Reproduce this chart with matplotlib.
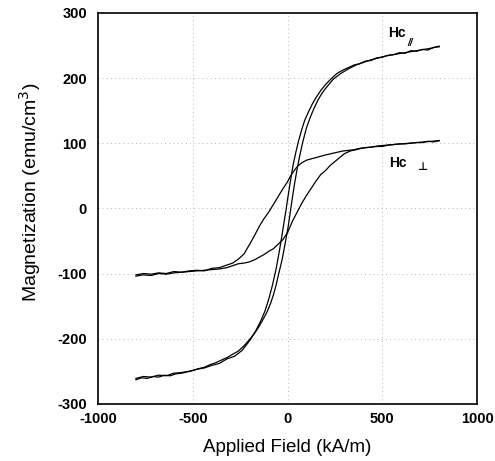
import matplotlib
matplotlib.use("Agg")
from matplotlib import pyplot as plt

plt.rcParams['font.family'] = ['Liberation Sans', 'DejaVu Sans']
plt.rcParams['axes.unicode_minus'] = False

# Hc // loop, descending branch (field swept from +800 to -800)
par_dn_H = [-800, -760, -720, -680, -640, -600, -560, -520, -480, -440, -400, -360, -320, -280,
            -240, -200, -170, -145, -120, -100, -80, -60, -45, -30, -18, -8, 2, 15, 30, 45, 60,
            75, 90, 110, 130, 150, 175, 200, 230, 260, 290, 320, 350, 380, 410, 440, 470, 500,
            530, 560, 590, 620, 650, 680, 710, 740, 770, 800]
par_dn_M = [-261, -258, -259, -256, -257, -253, -252, -250, -247, -245, -241, -238, -231, -227,
            -218, -203, -189, -175, -158, -140, -118, -92, -68, -42, -20, -2, 18, 42, 68, 88, 106,
            121, 135, 148, 160, 170, 181, 190, 199, 207, 212, 216, 220, 222, 226, 227, 231, 232,
            235, 236, 239, 238, 242, 241, 244, 243, 247, 248]

# Hc // loop, ascending branch
par_up_H = [-800, -770, -740, -710, -680, -650, -620, -590, -560, -530, -500, -470, -440, -410,
            -380, -350, -320, -290, -260, -230, -200, -175, -150, -125, -107, -90, -75, -60, -45,
            -30, -18, -8, 2, 12, 22, 35, 50, 65, 80, 100, 120, 140, 160, 180, 200, 240, 280, 320,
            360, 400, 440, 480, 520, 560, 600, 640, 680, 720, 760, 800]
par_up_M = [-263, -260, -261, -258, -259, -256, -257, -254, -253, -251, -249, -246, -244, -240,
            -237, -233, -229, -224, -219, -211, -201, -192, -181, -168, -158, -146, -133, -117,
            -98, -80, -62, -46, -30, -10, 10, 35, 60, 82, 102, 124, 140, 154, 166, 176, 184, 198,
            207, 214, 220, 224, 228, 231, 234, 236, 238, 240, 242, 244, 246, 249]

# Hc perpendicular loop, descending branch
per_dn_H = [-800, -760, -720, -680, -640, -600, -560, -520, -480, -440, -400, -360, -320, -290,
            -260, -230, -200, -175, -150, -125, -100, -75, -50, -25, 0, 14, 30, 50, 75, 100, 125,
            150, 175, 200, 230, 260, 290, 320, 350, 380, 410, 440, 470, 500, 530, 560, 590, 620,
            650, 680, 710, 740, 770, 800]
per_dn_M = [-102, -100, -101, -99, -100, -97, -98, -96, -95, -96, -92, -91, -87, -84, -78, -70,
            -55, -42, -28, -16, -6, 6, 18, 30, 41, 49, 56, 64, 70, 74, 76, 78, 80, 82, 84, 86, 88,
            89, 90, 92, 93, 94, 95, 95, 97, 98, 99, 99, 100, 101, 101, 103, 102, 104]

# Hc perpendicular loop, ascending branch
per_up_H = [-800, -760, -720, -680, -640, -600, -560, -520, -480, -440, -400, -360, -320, -290,
            -260, -230, -200, -175, -150, -125, -100, -75, -50, -25, 0, 25, 50, 75, 100, 125, 150,
            175, 200, 225, 250, 275, 300, 330, 360, 400, 440, 480, 520, 560, 600, 640, 680, 720,
            760, 800]
per_up_M = [-104, -102, -103, -100, -101, -99, -98, -97, -96, -95, -94, -93, -91, -88, -85, -84,
            -82, -79, -75, -71, -66, -62, -55, -48, -37, -20, -6, 8, 20, 31, 42, 52, 58, 66, 72,
            78, 84, 88, 90, 93, 94, 96, 97, 98, 99, 100, 101, 102, 103, 104]

x_ticks = [-1000, -500, 0, 500, 1000]
y_ticks = [-300, -200, -100, 0, 100, 200, 300]

fig = plt.figure(figsize=(4.95, 4.61), dpi=100)
ax = fig.add_axes([0.198, 0.124, 0.766, 0.848])

for hs, ms in [(par_dn_H, par_dn_M), (par_up_H, par_up_M),
               (per_dn_H, per_dn_M), (per_up_H, per_up_M)]:
    ax.plot(hs, ms, color='black', linewidth=0.9)

ax.set_xlim(-1000, 1000)
ax.set_ylim(-300, 300)
ax.set_xticks(x_ticks)
ax.set_yticks(y_ticks)
ax.tick_params(length=0, labelsize=10.5)
ax.tick_params(axis='x', pad=6)
ax.tick_params(axis='y', pad=8)
for lbl in ax.get_xticklabels() + ax.get_yticklabels():
    lbl.set_fontweight('bold')
ax.grid(True, color='#999999', linestyle=(0, (1, 4)), linewidth=0.6)
for sp in ax.spines.values():
    sp.set_linewidth(1.2)

ax.set_xlabel('Applied Field (kA/m)', fontsize=13.5, va='center')
ax.set_ylabel('Magnetization (emu/cm$^3$)', fontsize=14, va='center')
ax.xaxis.set_label_coords(0.5, -0.112)
ax.yaxis.set_label_coords(-0.18, 0.54)

ax.text(531, 269, 'Hc', fontsize=10, fontweight='bold', va='center')
ax.text(630, 254, '//', fontsize=7, fontstyle='italic', fontweight='bold', va='center')
ax.text(537, 70, 'Hc', fontsize=10, fontweight='bold', va='center')
ax.text(711, 63, '\u22a5', fontsize=8, fontweight='bold', va='center', ha='center')

fig.savefig('out.png', dpi=100)
